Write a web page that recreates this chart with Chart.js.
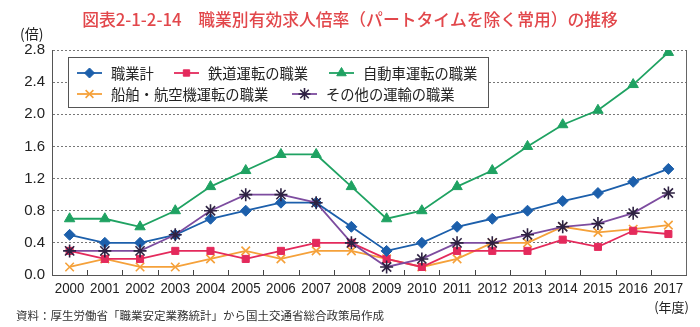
<!DOCTYPE html>
<html>
<head>
<meta charset="utf-8">
<script src="https://cdn.jsdelivr.net/npm/chart.js@4/dist/chart.umd.min.js"></script>
<style>
html,body{margin:0;padding:0;background:#fff;}
#wrap{width:700px;height:327px;position:relative;}
</style>
</head>
<body>
<div id="wrap"><canvas id="c" width="700" height="327"></canvas></div>
<script>
const years = ['2000','2001','2002','2003','2004','2005','2006','2007','2008','2009','2010','2011','2012','2013','2014','2015','2016','2017'];
const seriesNames = ['職業計','鉄道運転の職業','自動車運転の職業','船舶・航空機運転の職業','その他の運輸の職業'];
const totalJobs = [0.5,0.4,0.4,0.5,0.7,0.8,0.9,0.9,0.6,0.3,0.4,0.6,0.7,0.8,0.92,1.02,1.16,1.32];
const railDrivers = [0.3,0.2,0.2,0.3,0.3,0.2,0.3,0.4,0.4,0.2,0.1,0.3,0.3,0.3,0.44,0.35,0.55,0.51];
const autoDrivers = [0.7,0.7,0.6,0.8,1.1,1.3,1.5,1.5,1.1,0.7,0.8,1.1,1.3,1.6,1.87,2.05,2.37,2.77];
const shipAirDrivers = [0.1,0.2,0.1,0.1,0.2,0.3,0.2,0.3,0.3,0.2,0.1,0.2,0.4,0.4,0.6,0.53,0.57,0.62];
const otherTransport = [0.3,0.3,0.3,0.5,0.8,1.0,1.0,0.9,0.4,0.1,0.2,0.4,0.4,0.5,0.6,0.64,0.77,1.02];
const yTicks = [0,0.4,0.8,1.2,1.6,2.0,2.4,2.8];
const titleText = '図表2-1-2-14　職業別有効求人倍率（パートタイムを除く常用）の推移';
const sourceText = '資料：厚生労働省「職業安定業務統計」から国土交通省総合政策局作成';

const CJK = '"Noto Sans CJK JP","Noto Sans CJK SC",sans-serif';
const NUM = '"Liberation Sans",Arial,sans-serif';

function ds(label, data, color, style, radius, order, ptBorder){
  return {
    label, data, order,
    borderColor: color, backgroundColor: color,
    borderWidth: 1.8,
    pointStyle: style, pointRadius: radius,
    pointBackgroundColor: color,
    pointBorderColor: ptBorder || color,
    pointBorderWidth: style==='crossRot'||style==='star' ? 1.6 : 1,
    tension: 0, fill: false
  };
}

const datasets = [
  ds(seriesNames[0], totalJobs, '#1c5fab', 'rectRot', 5.5, 1),
  ds(seriesNames[1], railDrivers, '#e42a5c', 'rect', 5, 2),
  ds(seriesNames[2], autoDrivers, '#1fa262', 'triangle', 6, 4),
  ds(seriesNames[3], shipAirDrivers, '#f5a13a', 'crossRot', 6, 3),
  ds(seriesNames[4], otherTransport, '#7d4c9f', 'star', 6.5, 0, '#2e2242')
];

const decor = {
  id:'decor',
  afterDraw(chart){
    const ctx = chart.ctx, a = chart.chartArea, xs = chart.scales.x;
    ctx.save();
    // right frame
    ctx.strokeStyle = '#666'; ctx.lineWidth = 1;
    ctx.beginPath(); ctx.moveTo(a.right+0.5, a.top); ctx.lineTo(a.right+0.5, a.bottom); ctx.stroke();
    // inward tick marks at category boundaries
    ctx.strokeStyle = '#444';
    for (let i=1;i<years.length;i++){
      const x = Math.round((xs.getPixelForValue(i-1)+xs.getPixelForValue(i))/2)+0.5;
      ctx.beginPath(); ctx.moveTo(x, a.bottom); ctx.lineTo(x, a.bottom-5); ctx.stroke();
    }
    // x labels (condensed)
    ctx.fillStyle = '#222';
    ctx.font = '15.5px '+NUM;
    ctx.textAlign='center'; ctx.textBaseline='middle';
    years.forEach((y,i)=>{
      const x = xs.getPixelForValue(i);
      ctx.save(); ctx.translate(x, a.bottom+14); ctx.scale(0.86,1);
      ctx.fillText(y, 0, 0);
      ctx.restore();
    });
    // title
    ctx.fillStyle = '#e2474b';
    ctx.font = '500 16.8px '+CJK;
    ctx.textAlign='center'; ctx.textBaseline='middle';
    ctx.fillText(titleText, 350, 20);
    // unit
    ctx.fillStyle = '#222';
    ctx.font = '14px '+CJK;
    ctx.textAlign='left';
    ctx.fillText('(倍)', 20, 34);
    // year unit
    ctx.font = '13px '+CJK;
    ctx.textAlign='right';
    ctx.fillText('(年度)', 689, 307);
    // source
    ctx.font = '11.5px '+CJK;
    ctx.textAlign='left';
    ctx.fillStyle='#333';
    ctx.fillText(sourceText, 16, 316);
    // legend box
    ctx.fillStyle='#fff';
    ctx.fillRect(68.5, 57.5, 420, 50);
    ctx.strokeStyle='#555'; ctx.lineWidth=1;
    ctx.strokeRect(68.5, 57.5, 420, 50);
    const items = [
      {i:0, x:77, y:73},
      {i:1, x:174, y:73},
      {i:2, x:329, y:73},
      {i:3, x:77, y:94},
      {i:4, x:292, y:94}
    ];
    ctx.font = '14.3px '+CJK;
    ctx.textBaseline='middle';
    for (const it of items){
      const d = datasets[it.i];
      ctx.strokeStyle = d.borderColor; ctx.lineWidth = 1.8;
      ctx.beginPath(); ctx.moveTo(it.x, it.y); ctx.lineTo(it.x+25, it.y); ctx.stroke();
      ctx.fillStyle = d.pointBackgroundColor;
      ctx.strokeStyle = d.pointBorderColor;
      ctx.lineWidth = d.pointBorderWidth;
      if (Chart.helpers && Chart.helpers.drawPoint){
        Chart.helpers.drawPoint(ctx, {pointStyle:d.pointStyle, radius:d.pointRadius-0.5, rotation:0, borderWidth:d.pointBorderWidth}, it.x+12.5, it.y);
      }
      ctx.fillStyle = '#222';
      ctx.textAlign='left';
      ctx.fillText(d.label, it.x+34, it.y+1);
    }
    ctx.restore();
  }
};

new Chart(document.getElementById('c'), {
  type:'line',
  data:{labels: years, datasets},
  options:{
    responsive:false, animation:false, devicePixelRatio:1,
    layout:{padding:{top:50, right:14, left:0, bottom:0}},
    plugins:{legend:{display:false}, tooltip:{enabled:false}, title:{display:false}},
    scales:{
      x:{
        offset:true,
        grid:{display:false, drawTicks:false},
        border:{display:true, color:'#555', width:1},
        ticks:{display:false, autoSkip:false, maxRotation:0},
        afterFit(s){ s.height = 52; }
      },
      y:{
        min:0, max:2.8,
        afterBuildTicks(s){ s.ticks = yTicks.map(v=>({value:v})); },
        grid:{color:'#777', lineWidth:1, drawTicks:false},
        border:{display:true, color:'#555', width:1, dash:[2,2]},
        ticks:{padding:7, color:'#222', font:{family:'"Liberation Sans",Arial,sans-serif', size:15}, callback:v=>Number(v).toFixed(1)},
        afterFit(s){ s.width = 52; }
      }
    }
  },
  plugins:[decor]
});
</script>
</body>
</html>
